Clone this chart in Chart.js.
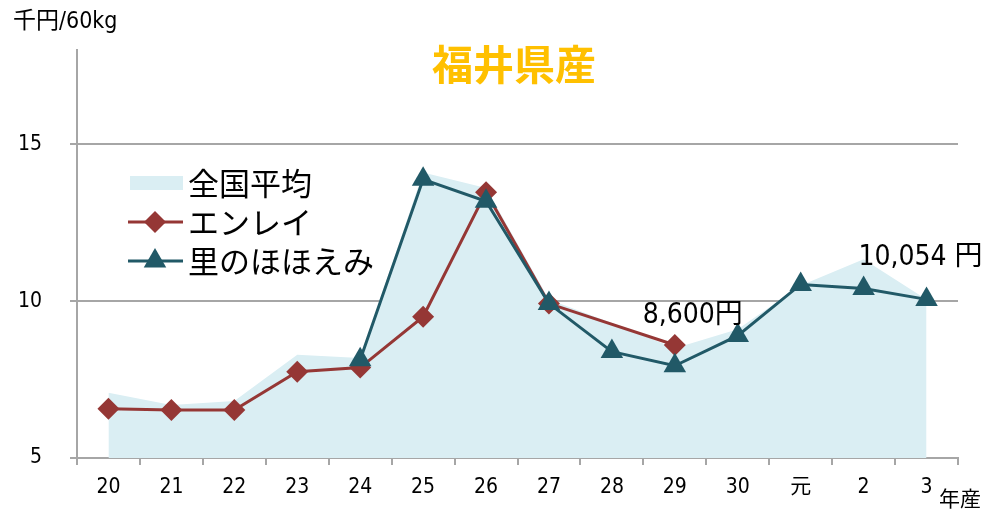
<!DOCTYPE html>
<html>
<head>
<meta charset="utf-8">
<script src="https://cdn.jsdelivr.net/npm/chart.js@4.4.1/dist/chart.umd.min.js"></script>
<style>
  html, body { margin: 0; padding: 0; background: #fff; }
  #wrap { position: relative; width: 986px; height: 510px; }
</style>
</head>
<body>
<div id="wrap"><canvas id="chart" width="986" height="510"></canvas></div>
<script>
// 年産（平成20年〜令和3年）
const years = ["20", "21", "22", "23", "24", "25", "26", "27", "28", "29", "30", "元", "2", "3"];
// 千円/60kg
const zenkokuAvg = [7.08, 6.69, 6.82, 8.29, 8.19, 14.1, 13.6, 10.05, 9.3, 8.5, 9.1, 10.5, 11.33, 10.05];
const enrei = [6.57, 6.53, 6.53, 7.75, 7.88, 9.5, 13.47, 9.92, null, 8.6, null, null, null, null];
const satono = [null, null, null, null, 8.13, 13.88, 13.18, 9.92, 8.39, 7.94, 8.9, 10.53, 10.4, 10.054];
const yTicks = [5, 10, 15];
const seriesNames = ["全国平均", "エンレイ", "里のほほえみ"];

const JP = "'Noto Sans CJK JP', sans-serif";
const NUM = "'DejaVu Sans', 'Noto Sans CJK JP', sans-serif";
const gridGrey = "#a6a6a6";
const red = "#953735";
const teal = "#215967";

// title, unit, legend and the two price notes
const extras = {
    id: "extras",
    afterDraw(chart) {
        const ctx = chart.ctx;
        const xs = chart.scales.x, ys = chart.scales.y;
        ctx.save();
        ctx.textBaseline = "middle";

        ctx.fillStyle = "#ffc000";
        ctx.font = "bold 41px " + JP;
        ctx.textAlign = "center";
        ctx.fillText("福井県産", 514, 64);

        ctx.fillStyle = "#000";
        ctx.textAlign = "left";
        ctx.font = "condensed 23px " + NUM;
        ctx.fillText("千円/60kg", 13, 22);
        ctx.font = "21px " + JP;
        ctx.fillText("年産", 939, 498);

        // legend
        const rows = [183, 222, 261];
        chart.data.datasets.forEach((ds, i) => {
            const y = rows[i];
            if (i === 0) {
                ctx.fillStyle = ds.backgroundColor;
                ctx.fillRect(130, y - 7, 53, 14);
            } else {
                ctx.strokeStyle = ds.borderColor;
                ctx.lineWidth = 3;
                ctx.beginPath(); ctx.moveTo(128, y); ctx.lineTo(183, y); ctx.stroke();
                ctx.fillStyle = ds.pointBackgroundColor;
                Chart.helpers.drawPoint(ctx, { pointStyle: ds.pointStyle, radius: ds.pointRadius, borderWidth: 0, rotation: 0 }, 155, y);
            }
            ctx.fillStyle = "#000";
            ctx.font = "31px " + JP;
            ctx.fillText(ds.label, 188, y);
        });

        // price notes
        ctx.font = "condensed 28px " + NUM;
        ctx.textAlign = "center";
        ctx.fillText("8,600円", xs.getPixelForValue(9) + 18, ys.getPixelForValue(enrei[9]) - 29);
        ctx.fillText("10,054 円", xs.getPixelForValue(13) - 6, ys.getPixelForValue(satono[13]) - 42);
        ctx.restore();
    }
};

new Chart(document.getElementById("chart"), {
    type: "line",
    data: {
        labels: years,
        datasets: [
            { label: seriesNames[0], data: zenkokuAvg, fill: "start", backgroundColor: "#daeef3",
              borderWidth: 0, pointRadius: 0, order: 3 },
            { label: seriesNames[1], data: enrei, spanGaps: true, borderColor: red, borderWidth: 3,
              pointStyle: "rectRot", pointRadius: 11, pointBackgroundColor: red, pointBorderWidth: 0, order: 2 },
            { label: seriesNames[2], data: satono, borderColor: teal, borderWidth: 3,
              pointStyle: "triangle", pointRadius: 13, pointBackgroundColor: teal, pointBorderWidth: 0, order: 1 }
        ]
    },
    options: {
        responsive: false,
        animation: false,
        devicePixelRatio: 1,
        layout: { padding: { top: 50, right: 28, left: 0, bottom: 0 } },
        plugins: { legend: { display: false }, tooltip: { enabled: false }, title: { display: false } },
        scales: {
            x: {
                offset: true,
                afterFit: s => { s.height = 52; },
                grid: { offset: true, drawOnChartArea: false, tickLength: 7, color: gridGrey, lineWidth: 2 },
                border: { color: gridGrey, width: 2 },
                ticks: { color: "#000", font: { size: 21, family: NUM, weight: "condensed" }, padding: 10, maxRotation: 0, autoSkip: false }
            },
            y: {
                min: 5, max: 18,
                afterFit: s => { s.width = 77; },
                afterBuildTicks: s => { s.ticks = yTicks.map(v => ({ value: v })); },
                grid: { tickLength: 7, color: gridGrey, lineWidth: 2 },
                border: { color: gridGrey, width: 2 },
                ticks: { color: "#000", font: { size: 21, family: NUM, weight: "condensed" }, padding: 28 }
            }
        }
    },
    plugins: [extras]
});
</script>
</body>
</html>
